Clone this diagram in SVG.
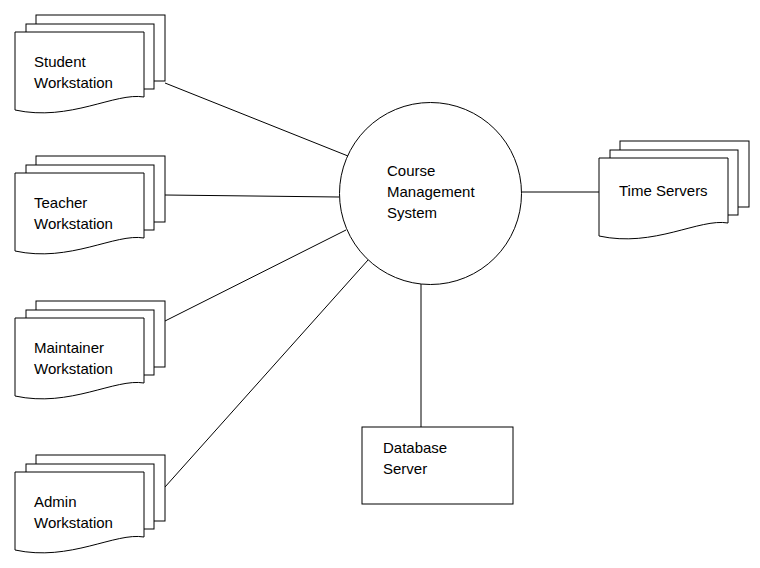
<svg xmlns="http://www.w3.org/2000/svg" width="760" height="568" viewBox="0 0 760 568">
<defs>
<style>
.s{fill:#fff;stroke:#000;stroke-width:1}
.t{font-family:"Liberation Sans",Arial,sans-serif;font-size:15px;fill:#000}
.c{stroke:#000;stroke-width:1;fill:none}
</style>
<g id="stack">
<rect class="s" x="21" y="-17" width="129" height="66"/>
<rect class="s" x="11" y="-8" width="128" height="65"/>
<path class="s" d="M0,0 H129 V65 C100,60 55,90 0,78 Z"/>
</g>
</defs>
<rect width="760" height="568" fill="#fff"/>
<g id="connectors">
<line class="c" x1="165" y1="83" x2="348" y2="156"/>
<line class="c" x1="165" y1="195" x2="339" y2="197"/>
<line class="c" x1="165" y1="321" x2="346" y2="230"/>
<line class="c" x1="165" y1="487" x2="368" y2="260"/>
<line class="c" x1="522" y1="192" x2="599" y2="192"/>
<line class="c" x1="421" y1="284" x2="421" y2="427"/>
</g>
<g id="student">
<use href="#stack" x="15" y="32"/>
<text class="t" x="34" y="67">Student</text>
<text class="t" x="34" y="88">Workstation</text>
</g>
<g id="teacher">
<use href="#stack" x="15" y="173"/>
<text class="t" x="34" y="208">Teacher</text>
<text class="t" x="34" y="229">Workstation</text>
</g>
<g id="maintainer">
<use href="#stack" x="15" y="318"/>
<text class="t" x="34" y="353">Maintainer</text>
<text class="t" x="34" y="374">Workstation</text>
</g>
<g id="admin">
<use href="#stack" x="15" y="472"/>
<text class="t" x="34" y="507">Admin</text>
<text class="t" x="34" y="528">Workstation</text>
</g>
<g id="cms">
<circle class="s" cx="430.5" cy="193.5" r="91"/>
<text class="t" x="387" y="176">Course</text>
<text class="t" x="387" y="197">Management</text>
<text class="t" x="387" y="218">System</text>
</g>
<g id="timeservers">
<use href="#stack" x="599" y="158"/>
<text class="t" x="619" y="196">Time Servers</text>
</g>
<g id="database">
<rect class="s" x="362" y="427" width="151" height="77"/>
<text class="t" x="383" y="453">Database</text>
<text class="t" x="383" y="474">Server</text>
</g>
</svg>
